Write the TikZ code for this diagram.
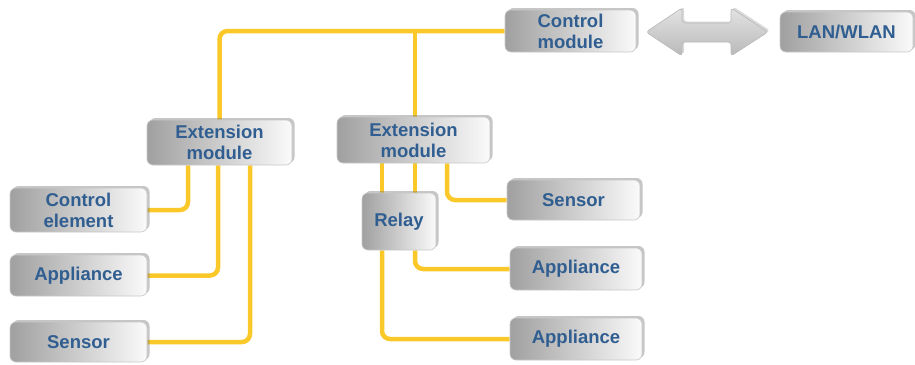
\documentclass[tikz,border=0pt]{standalone}
\usepackage{fontspec}
\setmainfont{Liberation Sans}
\usetikzlibrary{shadows,backgrounds}
\definecolor{txtblue}{RGB}{48,94,145}
\definecolor{wire}{RGB}{250,200,40}
\definecolor{boxdark}{RGB}{160,160,160}
\definecolor{boxlight}{RGB}{250,250,250}
\definecolor{boxedge}{RGB}{200,200,200}
\tikzset{
  box/.style={rounded corners=6pt, shading=axis, left color=boxdark, right color=boxlight,
    draw=boxedge, line width=0.6pt,
    drop shadow={shadow xshift=2.5pt, shadow yshift=2pt, opacity=0.45, fill=gray},
    font=\bfseries\fontsize{18.5}{21}\selectfont, text=txtblue, align=center, inner sep=0pt},
  wireline/.style={draw=wire, line width=4.5pt, rounded corners=8pt},
}
\begin{document}
\begin{tikzpicture}[x=1pt,y=-1pt]
\useasboundingbox (0,0) rectangle (915,364);
\node[box, minimum width=131, minimum height=42] (cm) at (570.5,31) {Control\\module};
\node[box, minimum width=133, minimum height=40] (lan) at (846.5,32) {LAN/WLAN};
\node[box, minimum width=145, minimum height=45] (ext1) at (219.5,142.5) {Extension\\module};
\node[box, minimum width=153, minimum height=46] (ext2) at (413.5,140) {Extension\\module};
\node[box, minimum width=137, minimum height=44] (ce) at (78.5,210) {Control\\element};
\node[box, minimum width=137, minimum height=41] (ap1) at (78.5,275.5) {Appliance};
\node[box, minimum width=137, minimum height=40] (se1) at (78.5,342) {Sensor};
\node[box, minimum width=74, minimum height=57] (relay) at (399,221.5) {Relay};
\node[box, minimum width=133, minimum height=40] (se2) at (573.5,200) {Sensor};
\node[box, minimum width=132, minimum height=42] (ap2) at (576,269) {Appliance};
\node[box, minimum width=132, minimum height=42] (ap3) at (576,339) {Appliance};
% double arrow between control module and LAN/WLAN
\path[shading=axis, top color=gray!22, bottom color=gray!55, draw=gray!55, line width=0.6pt,
  rounded corners=3pt, drop shadow={shadow xshift=2pt, shadow yshift=1.5pt, opacity=0.3, fill=gray}]
  (646,32) -- (682,8) -- (682,23) -- (731,23) -- (731,8) -- (768,32)
  -- (731,56) -- (731,42) -- (682,42) -- (682,56) -- cycle;
\begin{scope}[on background layer]
\draw[wireline] (cm.west) -| (ext1.north);
\draw[wireline] ([xshift=1.5pt]ext2.north) -- ([xshift=1.5pt]ext2.north |- cm.west);
\draw[wireline] ([xshift=-31.5pt]ext1.south) |- (ce.east);
\draw[wireline] ([xshift=-1.5pt]ext1.south) |- (ap1.east);
\draw[wireline] ([xshift=30.5pt]ext1.south) |- (se1.east);
\draw[wireline] ([xshift=-31.5pt]ext2.south) -- ([xshift=-31.5pt]ext2.south |- relay.north);
\draw[wireline] ([xshift=1.5pt]ext2.south) -- ([xshift=1.5pt]ext2.south |- relay.north);
\draw[wireline] ([xshift=33.5pt]ext2.south) |- (se2.west);
\draw[wireline] ([xshift=16pt]relay.south) |- (ap2.west);
\draw[wireline] ([xshift=-17pt]relay.south) |- (ap3.west);
\end{scope}
\end{tikzpicture}
\end{document}
